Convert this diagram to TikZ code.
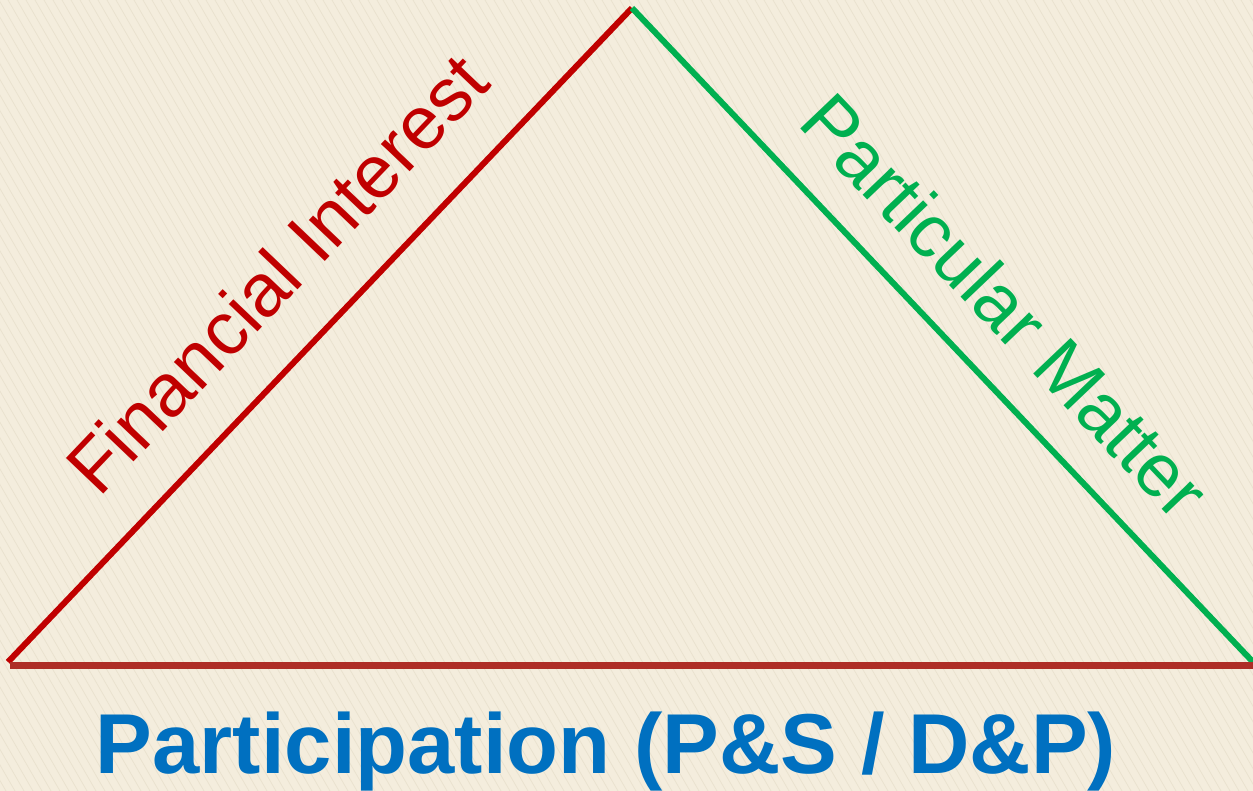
\documentclass[tikz,border=0pt]{standalone}
\usepackage{fontspec}
\setmainfont{Liberation Sans}
\definecolor{bgcream}{HTML}{F4EDDD}
\definecolor{stripe}{HTML}{EAE2CF}
\definecolor{firered}{HTML}{C00000}
\definecolor{pmgreen}{HTML}{00B050}
\definecolor{basered}{HTML}{AE2D26}
\definecolor{partblue}{HTML}{0070C0}
\tikzset{
  side/.style={line width=6pt},
  sidelabel/.style={inner sep=0pt, anchor=base, font=\fontsize{75}{90}\selectfont},
  bottomlabel/.style={inner sep=0pt, anchor=base, text=partblue, font=\fontsize{85}{100}\selectfont\bfseries}
}
\begin{document}
\begin{tikzpicture}[x=1pt,y=-1pt]
\fill[bgcream] (0,0) rectangle (1253,791);
\useasboundingbox (0,0) rectangle (1253,791);
\begin{scope}
\clip (0,0) rectangle (1253,791);
\foreach \i in {-460,-451,...,1260} {
  \draw[stripe, line width=0.8pt] (\i,0) -- ++(457,791);
}
\end{scope}
\coordinate (top) at (632,8);
\coordinate (bl) at (8,662);
\coordinate (br) at (1253,662);
\coordinate (b1) at (10,665);
\coordinate (b2) at (1253,665);
\draw[side, firered] (bl) -- (top);
\draw[side, pmgreen] (top) -- (br);
\draw[line width=7pt, draw=basered] (b1) -- (b2);
\node[sidelabel, text=firered, rotate=46.4] (fi) at (296,292) {Financial Interest};
\node[sidelabel, text=pmgreen, rotate=-46.4] (pm) at (986,324) {Particular Matter};
\node[bottomlabel] (part) at (606,773) {Participation (P\&S / D\&P)};
\end{tikzpicture}
\end{document}
